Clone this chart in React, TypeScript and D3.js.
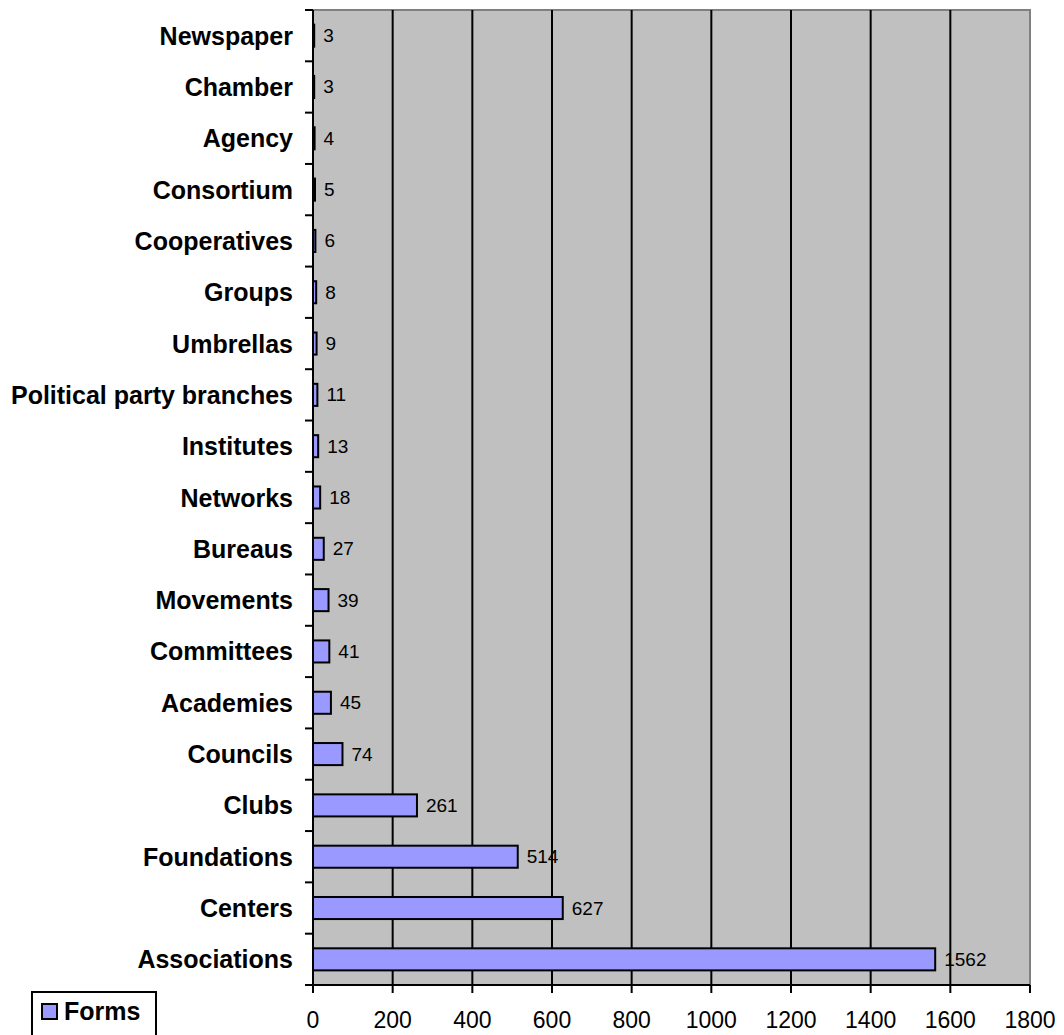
import * as d3 from "d3";

const categories = [
  "Newspaper",
  "Chamber",
  "Agency",
  "Consortium",
  "Cooperatives",
  "Groups",
  "Umbrellas",
  "Political party branches",
  "Institutes",
  "Networks",
  "Bureaus",
  "Movements",
  "Committees",
  "Academies",
  "Councils",
  "Clubs",
  "Foundations",
  "Centers",
  "Associations",
];
const values = [3, 3, 4, 5, 6, 8, 9, 11, 13, 18, 27, 39, 41, 45, 74, 261, 514, 627, 1562];
const xTicks = [0, 200, 400, 600, 800, 1000, 1200, 1400, 1600, 1800];
const seriesName = "Forms";

const W = 1064;
const H = 1035;
const plot = { left: 313, right: 1030, top: 10, bottom: 985 };

export default function App() {
  const x = d3.scaleLinear().domain([0, 1800]).range([plot.left, plot.right]);
  const y = d3
    .scaleBand<string>()
    .domain(categories)
    .range([plot.top, plot.bottom])
    .paddingInner(0.57)
    .paddingOuter(0.285);
  const band = d3
    .scaleBand<string>()
    .domain(categories)
    .range([plot.top, plot.bottom]);

  const boundaries = d3.range(categories.length + 1).map((i) => plot.top + i * band.step());

  return (
    <svg
      width={W}
      height={H}
      style={{ position: "absolute", left: 0, top: 0, background: "#fff" }}
      fontFamily="Arial, 'Liberation Sans', sans-serif"
    >
      {/* plot background */}
      <rect
        x={plot.left}
        y={plot.top}
        width={plot.right - plot.left}
        height={plot.bottom - plot.top}
        fill="#c0c0c0"
      />
      {/* gray frame top + right */}
      <path
        d={`M${plot.left},${plot.top}H${plot.right}V${plot.bottom}`}
        fill="none"
        stroke="#808080"
        strokeWidth={2}
      />
      {/* vertical gridlines */}
      {xTicks.slice(1, -1).map((t) => (
        <line
          key={t}
          x1={x(t)}
          x2={x(t)}
          y1={plot.top}
          y2={plot.bottom}
          stroke="#000"
          strokeWidth={2}
        />
      ))}
      {/* bars */}
      {categories.map((c, i) => (
        <rect
          key={c}
          x={x(0)}
          y={y(c)}
          width={x(values[i]) - x(0)}
          height={y.bandwidth()}
          fill="#9999ff"
          stroke="#000"
          strokeWidth={2}
        />
      ))}
      {/* value labels */}
      {categories.map((c, i) => (
        <text
          key={c}
          x={x(values[i]) + 9}
          y={(y(c) ?? 0) + y.bandwidth() / 2}
          dominantBaseline="central"
          fontSize={19}
          fill="#000"
        >
          {values[i]}
        </text>
      ))}
      {/* y axis */}
      <line x1={plot.left} x2={plot.left} y1={plot.top} y2={plot.bottom} stroke="#000" strokeWidth={2} />
      {boundaries.map((b, i) => (
        <line key={i} x1={plot.left - 8} x2={plot.left} y1={b} y2={b} stroke="#000" strokeWidth={2} />
      ))}
      {categories.map((c) => (
        <text
          key={c}
          x={293}
          y={(band(c) ?? 0) + band.bandwidth() / 2}
          textAnchor="end"
          dominantBaseline="central"
          fontSize={25}
          fontWeight="bold"
          fill="#000"
        >
          {c}
        </text>
      ))}
      {/* x axis */}
      <line x1={plot.left} x2={plot.right} y1={plot.bottom} y2={plot.bottom} stroke="#000" strokeWidth={2} />
      {xTicks.map((t) => (
        <g key={t}>
          <line x1={x(t)} x2={x(t)} y1={plot.bottom} y2={plot.bottom + 8} stroke="#000" strokeWidth={2} />
          <text x={x(t)} y={1028} textAnchor="middle" fontSize={23} fill="#000">
            {t}
          </text>
        </g>
      ))}
      {/* legend */}
      <rect x={32} y={992} width={124} height={50} fill="#fff" stroke="#000" strokeWidth={2} />
      <rect x={42} y={1004} width={15} height={15} fill="#9999ff" stroke="#000" strokeWidth={2} />
      <text x={64} y={1020} fontSize={25} fontWeight="bold" fill="#000">
        {seriesName}
      </text>
    </svg>
  );
}
